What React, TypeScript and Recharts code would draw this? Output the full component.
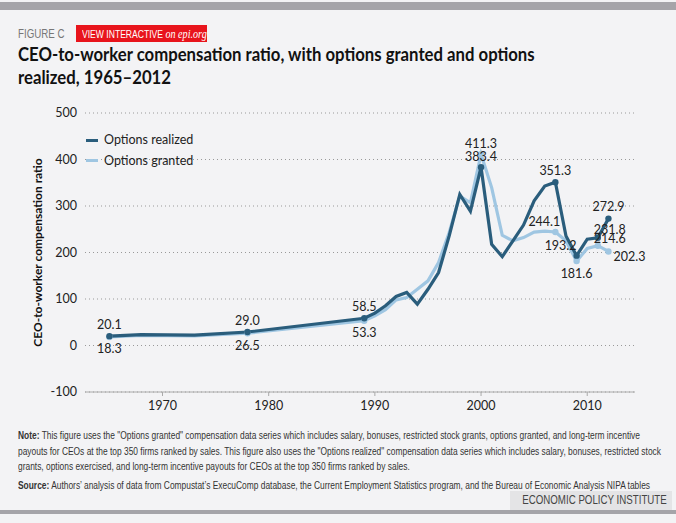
import React from 'react';
import { LineChart, Line, XAxis, YAxis, CartesianGrid, LabelList } from 'recharts';

const years = [1965, 1968, 1973, 1978, 1989, 1990, 1991, 1992, 1993, 1994, 1995, 1996, 1997, 1998, 1999, 2000, 2001, 2002, 2003, 2004, 2005, 2006, 2007, 2008, 2009, 2010, 2011, 2012];
const realized = [20.1, 23.5, 22.5, 29.0, 58.5, 69.7, 85.4, 105.5, 114, 89, 121, 157, 235.6, 325, 289, 383.4, 217.8, 191, 225, 259, 311, 343, 351.3, 235.6, 193.2, 228.5, 231.8, 272.9];
const granted = [18.3, 21.5, 20.5, 26.5, 53.3, 64, 77, 98, 103, 121, 139, 178.5, 243, 321.5, 307, 411.3, 339.5, 237, 225, 232, 244, 246, 244.1, 225, 181.6, 208.6, 214.6, 202.3];
const yTicks = [-100, 0, 100, 200, 300, 400, 500];
const xTicks = [1970, 1980, 1990, 2000, 2010];

// years that get a value label and a dot
const realizedLabeled = [1965, 1978, 1989, 2000, 2007, 2009, 2011, 2012];
const grantedLabeled = [1965, 1978, 1989, 2000, 2007, 2009, 2011, 2012];

// label offsets (dx, dy) relative to the point
const realizedOffsets: Record<number, [number, number]> = {
  1965: [0, -12], 1978: [0, -12], 1989: [0, -12], 2000: [0, -11],
  2007: [0, -12], 2009: [-16, -10], 2011: [12, -8], 2012: [0, -12],
};
const grantedOffsets: Record<number, [number, number]> = {
  1965: [0, 12], 1978: [0, 12], 1989: [0, 12], 2000: [0, -11],
  2007: [-11, -10], 2009: [0, 12], 2011: [12, -7], 2012: [21, 5],
};

const data = years.map((y, i) => ({ year: y, realized: realized[i], granted: granted[i] }));

const DARK = '#2a5d7c';
const LIGHT = '#9fc6e2';
const BG = '#f3f3f5';
const FONT = 'Lato, "Open Sans", sans-serif';
const NARROW = '"Liberation Sans", Arial, sans-serif';

const makeDot = (labeled: number[], color: string) => (props: any) => {
  const { cx, cy, payload, index } = props;
  if (!labeled.includes(payload.year)) return <g key={index} />;
  return <circle key={index} cx={cx} cy={cy} r={3.2} fill={color} stroke="none" />;
};

const makeLabel = (offsets: Record<number, [number, number]>) => (props: any) => {
  const { x, y, value, index } = props;
  const yr = years[index];
  const off = offsets[yr];
  if (!off) return null;
  return (
    <text x={x + off[0]} y={y + off[1]} textAnchor="middle" dominantBaseline="central"
      fontSize={12.5} fill="#222" fontFamily={FONT}>
      {value.toFixed(1)}
    </text>
  );
};

const squeeze = (s: number, origin = 'left center'): React.CSSProperties => ({
  display: 'inline-block', transform: `scaleX(${s})`, transformOrigin: origin, whiteSpace: 'nowrap',
});

export default function App() {
  return (
    <div style={{ position: 'fixed', left: 0, top: 0, width: 676, height: 523, background: BG, overflow: 'hidden' }}>
      <div style={{ position: 'absolute', left: 0, top: 2, width: 676, height: 8, background: '#a5a4a9' }} />
      <div style={{ position: 'absolute', left: 18, top: 25, fontFamily: NARROW, fontSize: 13, color: '#777', lineHeight: '17px' }}>
        <span style={squeeze(0.75)}>FIGURE C</span>
      </div>
      <div style={{ position: 'absolute', left: 76, top: 25, width: 131, height: 17, background: '#e8141c', color: '#fff', fontFamily: NARROW, fontSize: 11, lineHeight: '17px', whiteSpace: 'nowrap', overflow: 'hidden' }}>
        <span style={{ ...squeeze(0.78), marginLeft: 6 }}>
          VIEW INTERACTIVE <span style={{ fontFamily: '"Liberation Serif", serif', fontStyle: 'italic', fontSize: 13 }}>on epi.org</span>
        </span>
      </div>
      <div style={{ position: 'absolute', left: 18, top: 42, fontFamily: FONT, fontWeight: 700, fontSize: 19, color: '#111', lineHeight: '23px' }}>
        <span style={squeeze(0.88)}>CEO-to-worker compensation ratio, with options granted and options</span><br />
        <span style={squeeze(0.88)}>realized, 1965–2012</span>
      </div>

      <div style={{ position: 'absolute', left: 0, top: 0 }}>
        <LineChart width={676} height={430} data={data} margin={{ top: 113, right: 41, left: 0, bottom: 8 }}>
          <CartesianGrid horizontal vertical={false} stroke="#999" strokeDasharray="1 3" />
          <XAxis dataKey="year" type="number" domain={[1962.7, 2014.5]} ticks={xTicks} height={30}
            axisLine={{ stroke: '#aaa', strokeWidth: 1 }} tickLine={{ stroke: '#aaa' }} tickSize={4}
            tick={{ fontSize: 12.5, fill: '#222', fontFamily: FONT }} tickMargin={5} />
          <YAxis type="number" domain={[-100, 500]} ticks={yTicks} width={85} axisLine={false} tickLine={false}
            tick={{ fontSize: 12.5, fill: '#222', fontFamily: FONT }}
            label={{ value: 'CEO-to-worker compensation ratio', angle: -90, position: 'insideLeft', offset: 38,
              style: { textAnchor: 'middle', fontSize: 12, fontWeight: 700, fill: '#111', fontFamily: FONT } }} />
          <Line type="linear" dataKey="granted" stroke={LIGHT} strokeWidth={3.2} dot={makeDot(grantedLabeled, LIGHT)}
            activeDot={false} isAnimationActive={false}>
            <LabelList dataKey="granted" content={makeLabel(grantedOffsets)} />
          </Line>
          <Line type="linear" dataKey="realized" stroke={DARK} strokeWidth={3.2} dot={makeDot(realizedLabeled, DARK)}
            activeDot={false} isAnimationActive={false}>
            <LabelList dataKey="realized" content={makeLabel(realizedOffsets)} />
          </Line>
        </LineChart>
      </div>

      <div style={{ position: 'absolute', left: 86, top: 130, fontFamily: FONT, fontSize: 12.5, color: '#222', lineHeight: '20.5px' }}>
        <div style={{ display: 'flex', alignItems: 'center' }}>
          <span style={{ display: 'inline-block', width: 12, height: 3, background: DARK, marginRight: 6 }} />
          Options realized
        </div>
        <div style={{ display: 'flex', alignItems: 'center' }}>
          <span style={{ display: 'inline-block', width: 12, height: 3, background: LIGHT, marginRight: 6 }} />
          Options granted
        </div>
      </div>

      <div style={{ position: 'absolute', left: 510, top: 491, width: 162, height: 19, background: '#e4e4e6' }}>
        <span style={{ ...squeeze(0.72, 'right center'), position: 'absolute', right: 5, top: 1, fontFamily: NARROW, fontSize: 13.5, color: '#444', lineHeight: '16px' }}>
          ECONOMIC POLICY INSTITUTE
        </span>
      </div>
      <div style={{ position: 'absolute', left: 18, top: 428, fontFamily: NARROW, fontSize: 10.5, color: '#333', lineHeight: '15.5px' }}>
        <div style={squeeze(0.8)}><b>Note:</b> This figure uses the "Options granted" compensation data series which includes salary, bonuses, restricted stock grants, options granted, and long-term incentive</div><br />
        <div style={squeeze(0.8)}>payouts for CEOs at the top 350 firms ranked by sales. This figure also uses the "Options realized" compensation data series which includes salary, bonuses, restricted stock</div><br />
        <div style={squeeze(0.8)}>grants, options exercised, and long-term incentive payouts for CEOs at the top 350 firms ranked by sales.</div><br />
        <div style={{ ...squeeze(0.8), marginTop: 3 }}><b>Source:</b> Authors’ analysis of data from Compustat’s ExecuComp database, the Current Employment Statistics program, and the Bureau of Economic Analysis NIPA tables</div>
      </div>
      <div style={{ position: 'absolute', left: 0, top: 510, width: 676, height: 4, background: '#a5a4a9' }} />
    </div>
  );
}
